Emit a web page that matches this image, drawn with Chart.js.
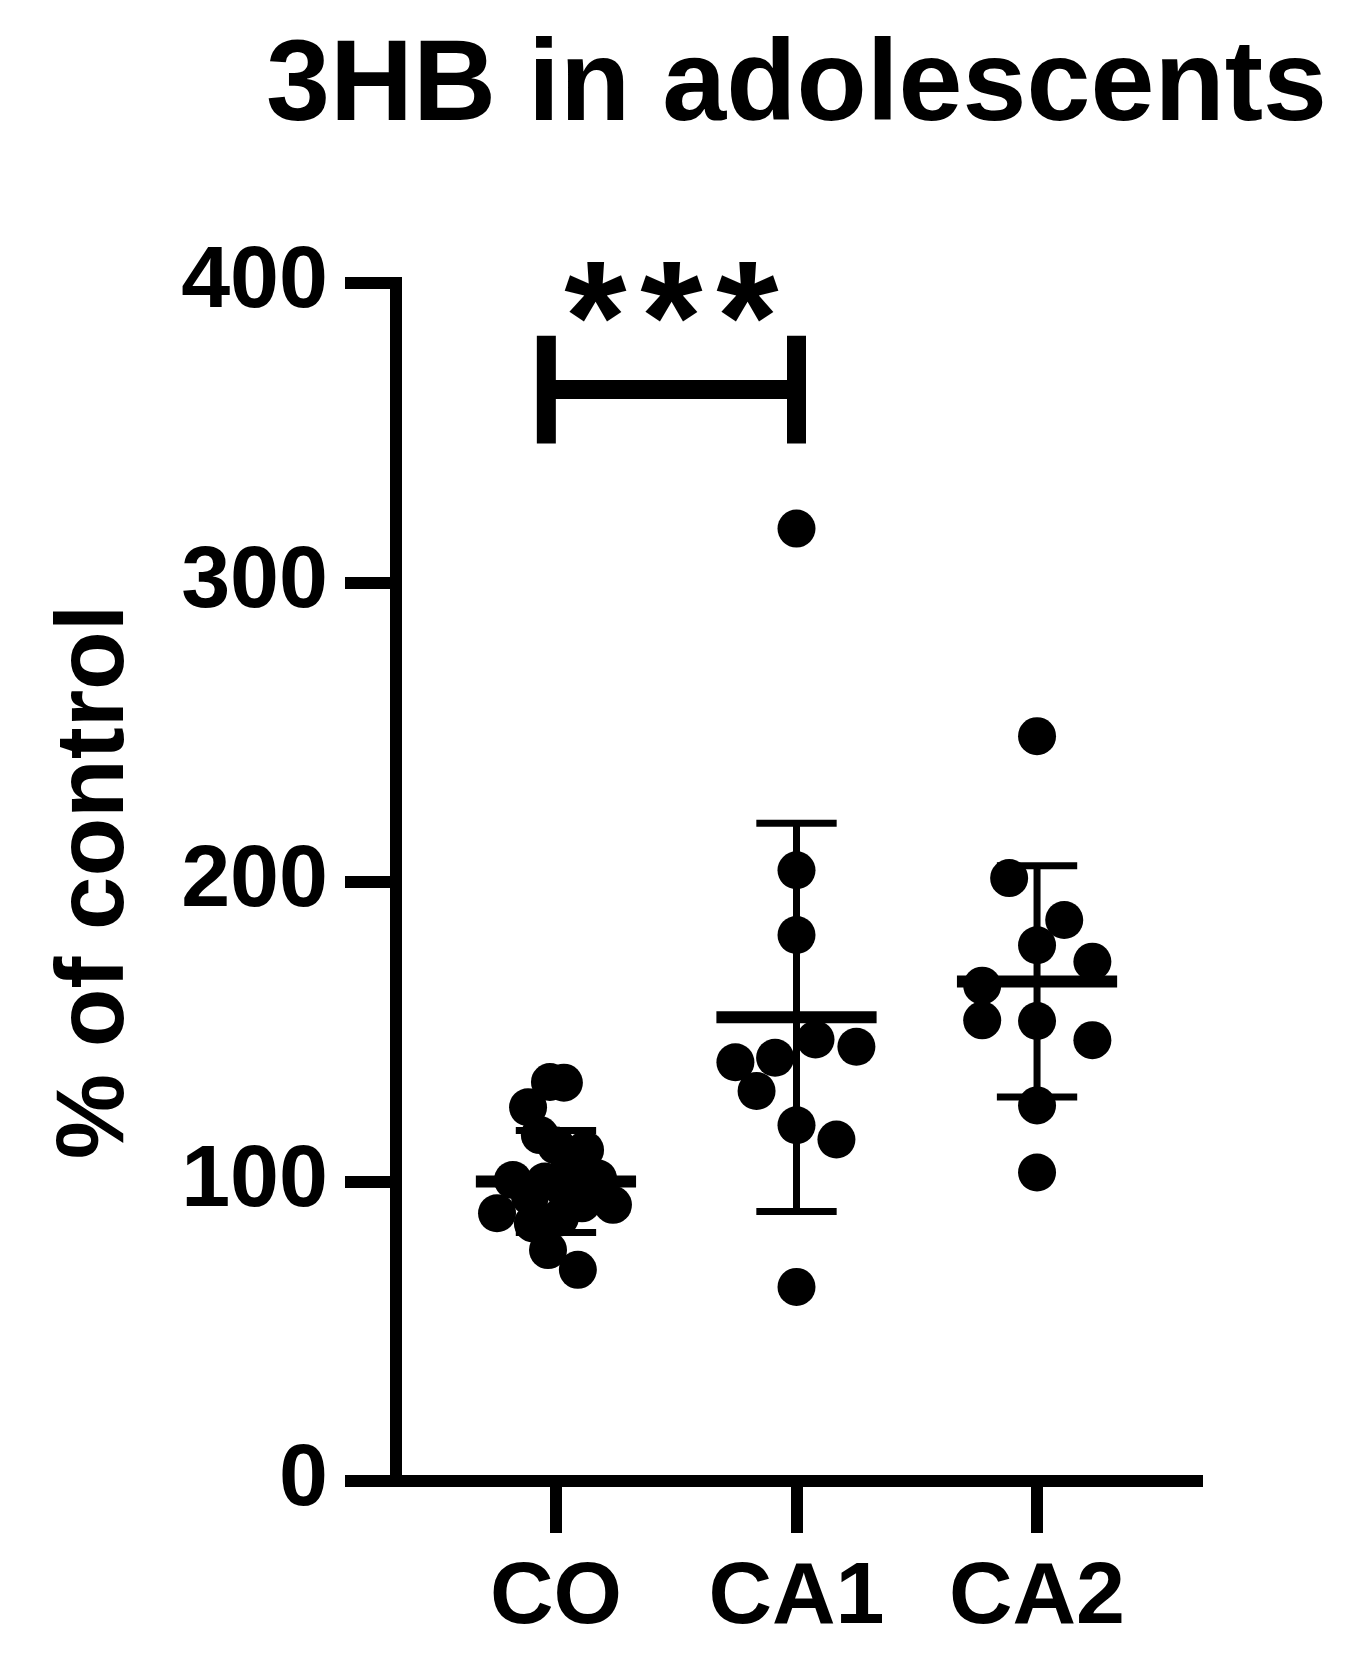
<!DOCTYPE html>
<html>
<head>
<meta charset="utf-8">
<title>3HB in adolescents</title>
<script src="https://cdn.jsdelivr.net/npm/chart.js@4.4.0/dist/chart.umd.min.js"></script>
<style>
    html, body { margin: 0; padding: 0; background: #fff; }
    #wrap { width: 1358px; height: 1665px; }
</style>
</head>
<body>
<div id="wrap"><canvas id="chart"></canvas></div>
<script>
const groups = ['CO', 'CA1', 'CA2'];
const groupPos = [1, 2, 3];
const yTicks = [0, 100, 200, 300, 400];

const chartTitle = '3HB in adolescents';
const yTitle = '% of control';

// individual animals, % of control, with the horizontal scatter (category units)
const coValues = [133.2, 133.0, 124.8, 115.5, 112.0, 110.5, 106.0, 101.0, 100.5, 100.0, 97.0, 95.0, 92.7, 92.2, 89.4, 86.0, 88.0, 77.1, 70.5];
const coJitter = [-0.025, 0.033, -0.116, -0.067, 0, 0.121, 0.058, 0.175, -0.179, -0.046, 0.037, -0.108, 0.108, 0.237, -0.245, -0.096, 0.017, -0.033, 0.091];

const ca1Values = [318.0, 203.9, 182.3, 147.4, 145.0, 139.8, 141.3, 130.2, 118.8, 114.0, 64.8];
const ca1Jitter = [0, 0, 0, 0.079, 0.249, -0.254, -0.089, -0.166, 0, 0.166, 0];

const ca2Values = [248.7, 201.3, 187.3, 178.9, 173.4, 165.4, 153.8, 153.6, 147.2, 125.4, 103.0];
const ca2Jitter = [0, -0.116, 0.113, 0, 0.230, -0.228, -0.228, 0, 0.230, 0, 0];

// mean and SD as drawn
const means = [100.0, 154.8, 166.8];
const sds = [17.0, 64.8, 38.6];

// significance: CO vs CA1
const sigLabel = '***';
const sigPair = [0, 1];
const sigValue = 364.4;

const values = [coValues, ca1Values, ca2Values];
const jitter = [coJitter, ca1Jitter, ca2Jitter];

const FONT = 'Liberation Sans, Arial, sans-serif';
const BLACK = '#000';

function segment(x1, y1, x2, y2, width) {
    return {
        type: 'line',
        data: [{x: x1, y: y1}, {x: x2, y: y2}],
        borderColor: BLACK,
        borderWidth: width,
        borderCapStyle: 'butt',
        pointRadius: 0,
        fill: false,
        clip: false,
        order: 0
    };
}

let datasets = [];

for (let g = 0; g < groups.length; g++) {
    const pos = groupPos[g];
    datasets.push({
        type: 'scatter',
        label: groups[g],
        data: values[g].map((v, i) => ({x: pos + jitter[g][i], y: v})),
        backgroundColor: BLACK,
        borderWidth: 0,
        pointRadius: 19,
        pointHoverRadius: 19,
        clip: false,
        order: 1
    });
    const lo = means[g] - sds[g];
    const hi = means[g] + sds[g];
    // mean bar, SD whisker and caps
    datasets.push(segment(pos - 0.333, means[g], pos + 0.333, means[g], 12));
    datasets.push(segment(pos, lo, pos, hi, 7));
    datasets.push(segment(pos - 0.167, lo, pos + 0.167, lo, 7));
    datasets.push(segment(pos - 0.167, hi, pos + 0.167, hi, 7));
}

// bracket for the significance mark
const bx1 = groupPos[sigPair[0]] - 0.04;
const bx2 = groupPos[sigPair[1]];
datasets.push(segment(bx1, sigValue, bx2, sigValue, 19));
datasets.push(segment(bx1, sigValue - 18, bx1, sigValue + 18, 19));
datasets.push(segment(bx2, sigValue - 18, bx2, sigValue + 18, 19));

const textPlugin = {
    id: 'texts',
    afterDraw(chart) {
        const ctx = chart.ctx;
        const area = chart.chartArea;
        const xs = chart.scales.x;
        const ys = chart.scales.y;
        ctx.save();
        ctx.fillStyle = BLACK;

        // title, centred over the middle group
        ctx.font = 'bold 115px ' + FONT;
        ctx.textAlign = 'center';
        ctx.textBaseline = 'alphabetic';
        ctx.fillText(chartTitle, xs.getPixelForValue(groupPos[1]), 120);

        // significance stars
        const mid = (xs.getPixelForValue(bx1) + xs.getPixelForValue(bx2)) / 2;
        const top = ys.getPixelForValue(sigValue + 18);
        ctx.font = 'bold 160px ' + FONT;
        const stars = sigLabel.split('');
        for (let i = 0; i < stars.length; i++) {
            ctx.fillText(stars[i], mid + (i - (stars.length - 1) / 2) * 76, top + 36);
        }

        // y axis title
        ctx.font = 'bold 96px ' + FONT;
        ctx.translate(123, (area.top + area.bottom) / 2);
        ctx.rotate(-Math.PI / 2);
        ctx.fillText(yTitle, 0, 0);
        ctx.restore();
    }
};

const axisGrid = {
    drawOnChartArea: false,
    drawTicks: true,
    tickWidth: 12,
    tickColor: BLACK,
    lineWidth: 12,
    color: BLACK
};

const ctx = document.getElementById('chart').getContext('2d');
const chart = new Chart(ctx, {
    data: { datasets: datasets },
    options: {
        responsive: true,
        maintainAspectRatio: false,
        animation: false,
        events: [],
        layout: {
            padding: { left: 0, right: 161, top: 283, bottom: 0 }
        },
        plugins: {
            legend: { display: false },
            tooltip: { enabled: false },
            title: { display: false }
        },
        scales: {
            x: {
                type: 'linear',
                min: 0.335,
                max: 3.665,
                afterBuildTicks: (scale) => {
                    scale.ticks = groupPos.map(v => ({value: v}));
                },
                afterFit: (scale) => {
                    scale.height = 184;
                },
                ticks: {
                    callback: (v) => groups[groupPos.indexOf(v)],
                    font: { family: FONT, size: 88, weight: 'bold' },
                    color: BLACK,
                    padding: 13,
                    maxRotation: 0,
                    autoSkip: false
                },
                grid: Object.assign({ tickLength: 52 }, axisGrid),
                border: { display: true, width: 12, color: BLACK }
            },
            y: {
                type: 'linear',
                min: 0,
                max: 400,
                afterBuildTicks: (scale) => {
                    scale.ticks = yTicks.map(v => ({value: v}));
                },
                afterFit: (scale) => {
                    scale.width = 396;
                },
                ticks: {
                    font: { family: FONT, size: 88, weight: 'bold' },
                    color: BLACK,
                    padding: 17
                },
                grid: Object.assign({ tickLength: 51 }, axisGrid),
                border: { display: true, width: 12, color: BLACK }
            }
        }
    },
    plugins: [textPlugin]
});
</script>
</body>
</html>
